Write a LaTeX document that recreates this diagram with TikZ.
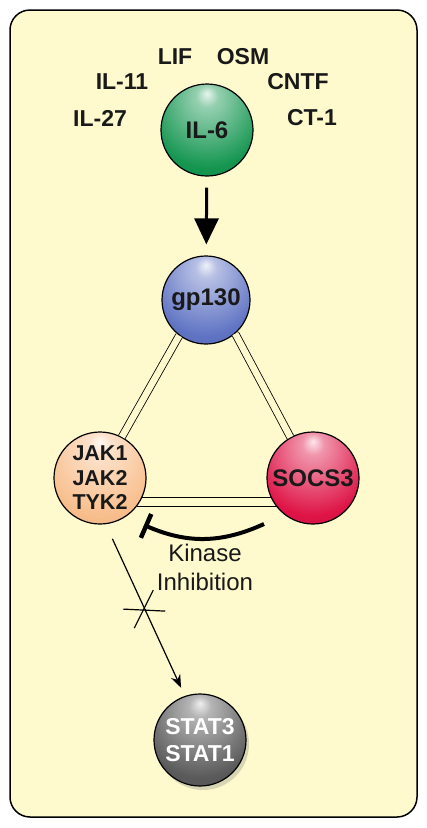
\documentclass[tikz,border=0pt]{standalone}
\usepackage{fontspec}
\setmainfont{Liberation Sans}
\usetikzlibrary{arrows.meta,calc,shadows}

%% Colours
\definecolor{bgyellow}{RGB}{255,250,205}
\definecolor{ilgreen}{RGB}{20,150,80}
\definecolor{gpblue}{RGB}{95,115,195}
\definecolor{jakpeach}{RGB}{248,190,140}
\definecolor{socsred}{RGB}{222,20,70}
\definecolor{statgray}{RGB}{90,90,90}

%% Sphere shadings
\newcommand{\sphereshading}[2]{%
  \pgfdeclareradialshading{#1}{\pgfpoint{0bp}{20bp}}{%
    color(0bp)=(#2!10!white); color(6bp)=(#2!45!white);
    color(32bp)=(#2); color(62bp)=(#2!78!black); color(75bp)=(#2!78!black)}}
\sphereshading{il6ball}{ilgreen}
\sphereshading{gpball}{gpblue}
\sphereshading{jakball}{jakpeach}
\sphereshading{socsball}{socsred}
\sphereshading{statball}{statgray}

\tikzset{
  sphere/.style={circle, draw=black, line width=1.2pt, minimum size=92pt,
    inner sep=0pt, align=center, text=black!90,
    font=\fontsize{24}{27}\selectfont\bfseries},
  ligand/.style={font=\fontsize{23}{26}\selectfont\bfseries, text=black!90},
  link/.style={double=bgyellow, double distance=6.5pt, line width=0.8pt},
  rail/.style={line width=0.9pt},
}

\begin{document}
\begin{tikzpicture}[x=1pt,y=-1pt]
    \useasboundingbox (0,0) rectangle (427,828);
    %% Cell box
    \draw[line width=1.5pt, fill=bgyellow, rounded corners=20pt] (10,10) rectangle (417,817);
    %% Ligands
    \node[sphere, shading=il6ball] (il6) at (207,130) {IL-6};
    \node[ligand] (lif)  at (175,57)  {LIF};
    \node[ligand] (osm)  at (243,57)  {OSM};
    \node[ligand] (il11) at (122,82)  {IL-11};
    \node[ligand] (cntf) at (298,82)  {CNTF};
    \node[ligand] (il27) at (100,118) {IL-27};
    \node[ligand] (ct1)  at (312,118) {CT-1};
    %% Receptor complex
    \node[sphere, shading=gpball, minimum size=88pt] (gp130) at (206,300) {gp130};
    \node[sphere, shading=jakball, font=\fontsize{21.5}{24.5}\selectfont\bfseries] (jak) at (100,478) {JAK1\\JAK2\\TYK2};
    \node[sphere, shading=socsball] (socs3) at (313,478) {SOCS3};
    \node[sphere, shading=statball, text=white, font=\fontsize{23}{27}\selectfont\bfseries,
      drop shadow={opacity=0.3, shadow xshift=3pt, shadow yshift=-4pt}] (stat) at (200,740) {STAT3\\STAT1};
    %% Inhibition label
    \node[font=\fontsize{24}{29}\selectfont, align=center, text=black!90] (kin) at (205,567) {Kinase\\Inhibition};
    %% Connections
    \draw[line width=3pt, -{Triangle[length=26pt,width=24pt]}, shorten <=11pt, shorten >=11pt] (il6) -- (gp130);
    \draw[link] (gp130.-127) -- (jak.62);
    \draw[link] (gp130.-49) -- (socs3.119);
    \draw[rail] (jak.-25) -- (socs3.205);
    \draw[rail] (jak.-38) -- (socs3.218);
    %% Kinase inhibition
    \coordinate (inhS) at (264,524);
    \coordinate (inhJ) at (144,525);
    \draw[line width=4pt, -{Bar[width=26pt,line width=4.5pt]}] (inhS) to[bend left=24] (inhJ);
    %% Blocked activation of STAT
    \draw[line width=1.2pt, -{Stealth[length=13pt,width=10pt]}, shorten <=16pt, shorten >=9pt]
      (jak.-83) -- coordinate[pos=0.5] (cut) (stat.109);
    \draw[line width=1.2pt] ($(cut)+(-22,-1)$) -- ($(cut)+(20,1)$);
    \draw[line width=1.2pt] ($(cut)+(-11,18)$) -- ($(cut)+(8,-20)$);
\end{tikzpicture}
\end{document}
